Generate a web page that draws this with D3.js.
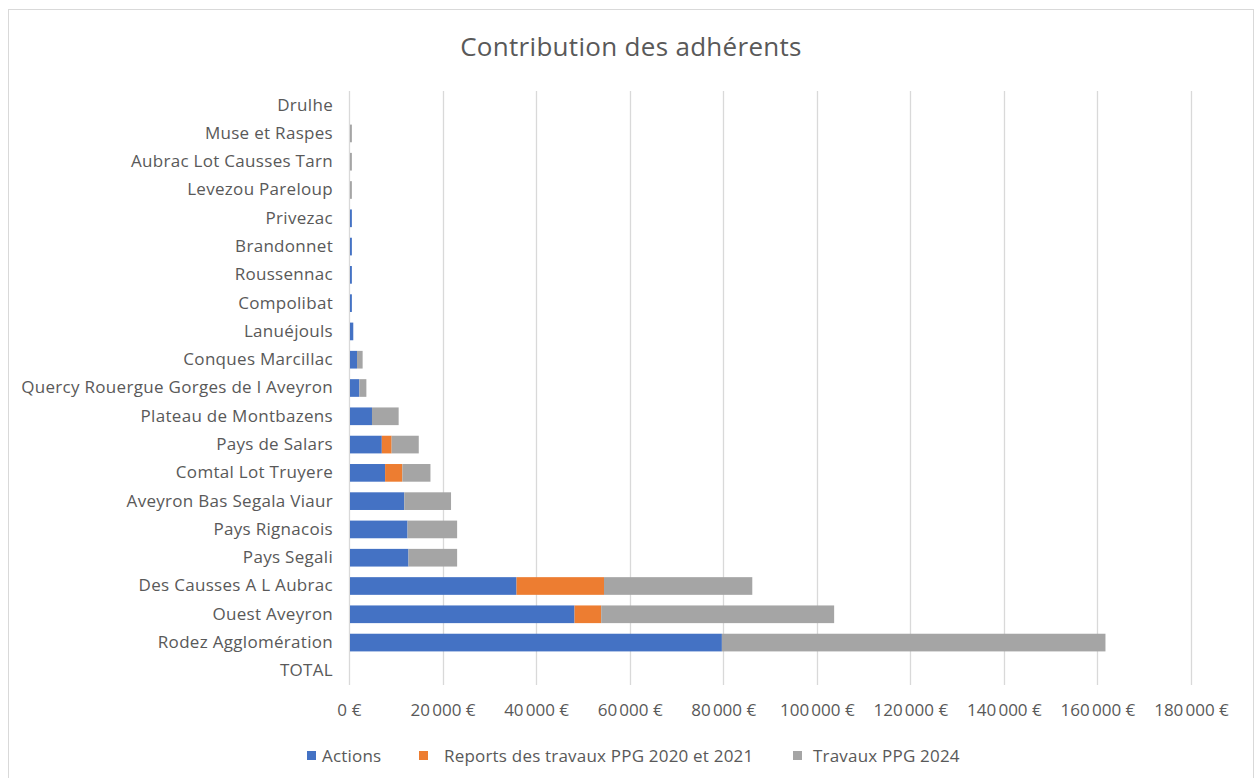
<!DOCTYPE html>
<html>
<head>
<meta charset="utf-8">
<script src="https://cdn.jsdelivr.net/npm/d3@7"></script>
<style>
  body { margin: 0; background: #fff; }
  svg text { font-family: "Open Sans", sans-serif; fill: #595959; }
</style>
</head>
<body>
<svg class="chart" width="1259" height="778"></svg>
<script>
// categories, top to bottom as drawn
var categories = ["Drulhe", "Muse et Raspes", "Aubrac Lot Causses Tarn", "Levezou Pareloup",
  "Privezac", "Brandonnet", "Roussennac", "Compolibat", "Lanuéjouls", "Conques Marcillac",
  "Quercy Rouergue Gorges de l Aveyron", "Plateau de Montbazens", "Pays de Salars",
  "Comtal Lot Truyere", "Aveyron Bas Segala Viaur", "Pays Rignacois", "Pays Segali",
  "Des Causses A L Aubrac", "Ouest Aveyron", "Rodez Agglomération", "TOTAL"];

var actions = [0, 0, 0, 0, 400, 400, 400, 400, 700, 1500, 2000, 4700, 6800, 7500, 11600, 12300, 12500, 35600, 48000, 79500, 0];
var reports = [0, 0, 0, 0, 0, 0, 0, 0, 0, 0, 0, 0, 2100, 3700, 0, 0, 0, 18700, 5700, 0, 0];
var travaux = [0, 400, 400, 400, 0, 0, 0, 0, 0, 1200, 1500, 5700, 5800, 6000, 10000, 10600, 10400, 31700, 49800, 82000, 0];

var seriesNames = ["Actions", "Reports des travaux PPG 2020 et 2021", "Travaux PPG 2024"];
var colors = ["#4472c4", "#ed7d31", "#a5a5a5"];
var xTicks = [0, 20000, 40000, 60000, 80000, 100000, 120000, 140000, 160000, 180000];

var rows = categories.map(function(c, i) {
  return {cat: c, Actions: actions[i], Reports: reports[i], Travaux: travaux[i]};
});
var stack = d3.stack().keys(["Actions", "Reports", "Travaux"])(rows);

var chart = d3.select(".chart");
var margin = {top: 91, left: 349, right: 69, bottom: 93};
var width = 1259 - margin.left - margin.right,
    height = 778 - margin.top - margin.bottom;

// frame
chart.append("rect")
  .attr("x", 8.5).attr("y", 9.5).attr("width", 1245).attr("height", 780)
  .attr("fill", "none").attr("stroke", "#d9d9d9");

chart.append("text")
  .attr("x", 631).attr("y", 56)
  .attr("text-anchor", "middle")
  .style("font-size", "26px")
  .style("letter-spacing", "0.3px")
  .text("Contribution des adhérents");

var g = chart.append("g").attr("transform", "translate(" + margin.left + "," + margin.top + ")");

var xScale = d3.scaleLinear().domain([0, 180000]).range([0, width + 1]);
var yScale = d3.scaleBand().domain(categories).range([0, height]).paddingInner(0.375).paddingOuter(0.1875);

var fmt = function(d) { return d3.format(",")(d).replace(/,/g, "\u202F") + " €"; };

// gridlines
g.append("g").selectAll("line").data(xTicks).enter().append("line")
  .attr("x1", function(d) { return Math.round(xScale(d)) + 0.5; })
  .attr("x2", function(d) { return Math.round(xScale(d)) + 0.5; })
  .attr("y1", 0).attr("y2", height)
  .attr("stroke", "#d9d9d9").attr("stroke-width", 1.3);

var xAxis = g.append("g")
  .attr("transform", "translate(0," + height + ")")
  .call(d3.axisBottom(xScale).tickValues(xTicks).tickFormat(fmt).tickSize(0).tickPadding(19));
xAxis.select(".domain").remove();
xAxis.selectAll("text").style("font-size", "17px").style("letter-spacing", "0.2px").attr("fill", "#595959");

var yAxis = g.append("g")
  .call(d3.axisLeft(yScale).tickSize(0).tickPadding(16));
yAxis.select(".domain").remove();
yAxis.selectAll("text").style("font-size", "17px").style("letter-spacing", "0.3px").attr("fill", "#595959");

g.selectAll("g.layer").data(stack).enter().append("g")
  .attr("class", "layer")
  .attr("fill", function(d, i) { return colors[i]; })
  .selectAll("rect").data(function(d) { return d; }).enter().append("rect")
  .attr("x", function(d) { return xScale(d[0]) + 1; })
  .attr("y", function(d) { return yScale(d.data.cat); })
  .attr("width", function(d) { return Math.max(0, xScale(d[1]) - xScale(d[0])); })
  .attr("height", yScale.bandwidth());

// legend
var legendX = [307, 419, 793];
var legendTextX = [322, 444, 813];
var legend = chart.append("g").selectAll("g").data(seriesNames).enter().append("g")
  .attr("transform", function(d, i) { return "translate(" + legendX[i] + ",755.5)"; });
legend.append("rect").attr("x", 0).attr("y", -4.5).attr("width", 9).attr("height", 9)
  .attr("fill", function(d, i) { return colors[i]; });
legend.append("text")
  .attr("x", function(d, i) { return legendTextX[i] - legendX[i]; })
  .attr("y", 6).style("font-size", "17px").style("letter-spacing", "0.2px")
  .text(function(d) { return d; });
</script>
</body>
</html>
